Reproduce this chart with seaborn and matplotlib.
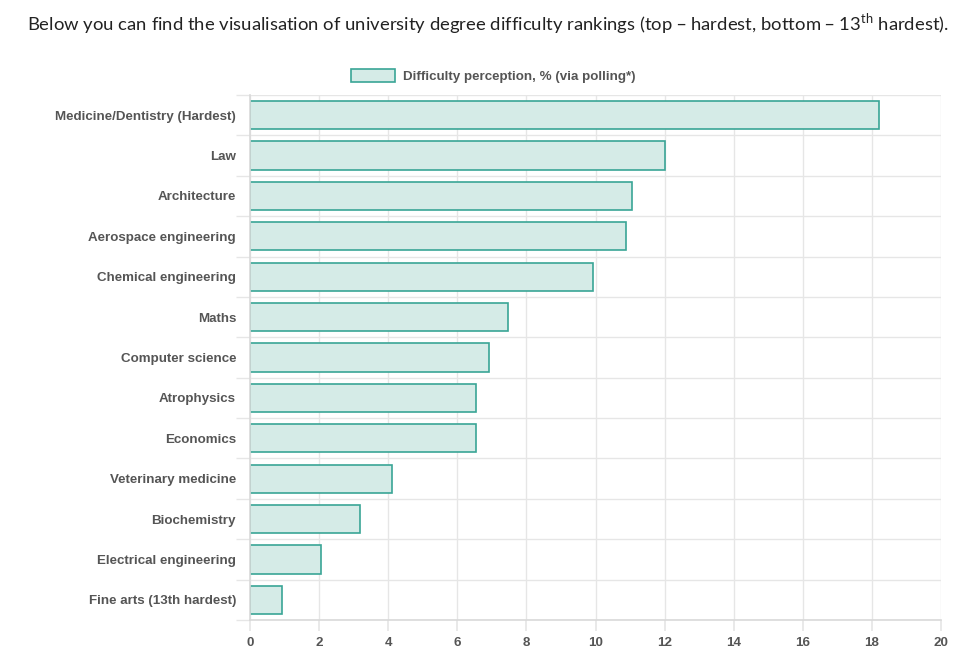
import matplotlib
matplotlib.use('Agg')
import matplotlib.pyplot as plt
import seaborn as sns
import pandas as pd
import numpy as np
from matplotlib.patches import Patch

# data
degrees = [
    'Medicine/Dentistry (Hardest)', 'Law', 'Architecture', 'Aerospace engineering',
    'Chemical engineering', 'Maths', 'Computer science', 'Atrophysics', 'Economics',
    'Veterinary medicine', 'Biochemistry', 'Electrical engineering', 'Fine arts (13th hardest)',
]
difficulty = [18.2, 12.0, 11.07, 10.88, 9.94, 7.48, 6.92, 6.55, 6.55, 4.12, 3.17, 2.05, 0.92]
x_ticks = [0, 2, 4, 6, 8, 10, 12, 14, 16, 18, 20]
series_label = 'Difficulty perception, % (via polling*)'

df = pd.DataFrame({'degree': degrees, 'difficulty': difficulty})

sns.set_theme(style='white')
plt.rcParams['font.family'] = ['Liberation Sans', 'DejaVu Sans']

fill = '#d5ebe7'
edge = '#3aa596'
tick_col = '#555555'
grid_col = '#e6e6e6'

fig = plt.figure(figsize=(9.67, 6.56), dpi=100)
ax = fig.add_axes([250 / 967, 1 - 620 / 656, 691 / 967, 525 / 656])

sns.barplot(data=df, y='degree', x='difficulty', orient='h', ax=ax,
            color=fill, edgecolor=edge, linewidth=1.2, width=0.7, saturation=1)

ax.set_xlim(0, 20)
ax.set_ylim(len(degrees) - 0.5, -0.5)
ax.set_xticks(x_ticks)
ax.set_xlabel('')
ax.set_ylabel('')

# category boundary lines like chart.js offset gridlines
ax.set_yticks(np.arange(len(degrees)))
ax.set_yticks(np.arange(len(degrees) + 1) - 0.5, minor=True)
ax.tick_params(axis='y', which='major', left=True, length=0, pad=10, labelsize=9.6, labelcolor=tick_col)
ax.tick_params(axis='y', which='minor', left=True, length=10, color=grid_col, width=1)
ax.tick_params(axis='x', which='major', bottom=True, length=8, color=grid_col, pad=4,
               labelsize=9.6, labelcolor=tick_col)
for lab in ax.get_yticklabels() + ax.get_xticklabels():
    lab.set_fontweight('bold')

ax.grid(True, axis='x', which='major', color=grid_col, linewidth=1)
ax.grid(True, axis='y', which='minor', color=grid_col, linewidth=1)
ax.set_axisbelow(True)
for side in ['top', 'right']:
    ax.spines[side].set_visible(False)
for side in ['left', 'bottom']:
    ax.spines[side].set_color('#d9d9d9')
    ax.spines[side].set_linewidth(1.2)

handle = Patch(facecolor=fill, edgecolor=edge, linewidth=1.2)
fig.legend([handle], [series_label], loc='center', bbox_to_anchor=(493 / 967, 1 - 76 / 656),
           frameon=False, handlelength=3.3, handleheight=1.1, handletextpad=0.6,
           prop={'family': 'Liberation Sans', 'weight': 'bold', 'size': 9.6},
           labelcolor=tick_col)

fig.text(27 / 967, 1 - 24 / 656,
         r'Below you can find the visualisation of university degree difficulty rankings '
         r'(top – hardest, bottom – 13$^{\mathregular{th}}$ hardest).',
         ha='left', va='center', fontsize=13.3, color='#222222', family=['Lato', 'DejaVu Sans'])

fig.savefig('out.png', dpi=100)
